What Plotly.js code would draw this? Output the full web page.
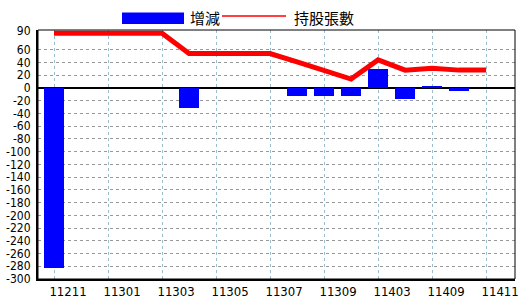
<!DOCTYPE html>
<html><head><meta charset="utf-8">
<script src="https://cdn.plot.ly/plotly-3.0.1.min.js"></script>
<style>html,body{margin:0;padding:0;background:#fff;}#chart{width:520px;height:300px;}</style>
</head><body><div id="chart"></div>
<script>
// data
const xIdx = [0,1,2,3,4,5,6,7,8,9,10,11,12,13,14,15,16];
const changes = [-283,null,null,null,null,-31,null,null,null,-13,-13,-12,30,-17,3,-4,null];
const holdings = [86,86,86,86,86,54,54,54,54,41,27,14,44,28,31,28,28];
const tickPos = [0,2,4,6,8,10,12,14,16];
const tickLabels = ['11211','11301','11303','11305','11307','11309','11403','11409','11411'];
const yTicks = [90,60,40,20,0,-20,-40,-60,-80,-100,-120,-140,-160,-180,-200,-220,-240,-260,-280,-300];
const seriesNames = ['增減','持股張數'];

const tickFont = {family:'"Liberation Sans Narrow","DejaVu Sans Condensed",Arial,sans-serif', size:12, color:'#000'};
const xTickFont = {family:'"Liberation Sans Narrow","DejaVu Sans Condensed",Arial,sans-serif', size:13, color:'#000'};
const cjkFont = {family:'"Noto Sans CJK TC","Noto Sans CJK SC",sans-serif', size:15, color:'#000'};

const traces = [
  {type:'bar', x:xIdx, y:changes, name:seriesNames[0], marker:{color:'#0000ff', line:{width:0}}, width:0.74, showlegend:false, hoverinfo:'skip'},
  {type:'scatter', mode:'lines', x:xIdx, y:holdings, name:seriesNames[1], line:{color:'#ff0000', width:5}, showlegend:false, hoverinfo:'skip'}
];

const L = 38, R = 515, T = 30, B = 279.5;
const px = v => (v - L) / (R - L);
const py = v => (B - v) / (B - T);

const layout = {
  width:520, height:300,
  margin:{l:38, r:5, t:30, b:20.5, pad:0},
  paper_bgcolor:'#fff', plot_bgcolor:'#fff',
  showlegend:false,
  xaxis:{
    range:[-0.593, 17.07], tickmode:'array', tickvals:tickPos, ticktext:tickLabels,
    showgrid:true, gridcolor:'#9dbccc', griddash:'dot', gridwidth:1,
    zeroline:false, showline:true, linecolor:'#000', linewidth:2,
    ticks:'', tickfont:xTickFont, ticklabelshift:14, ticklabelstandoff:-1, fixedrange:true
  },
  yaxis:{
    range:[-300, 91], tickmode:'array', tickvals:yTicks, ticktext:yTicks.map(String),
    showgrid:true, gridcolor:'#999', griddash:'dot', gridwidth:1,
    zeroline:true, zerolinecolor:'#000', zerolinewidth:2,
    showline:true, linecolor:'#000', linewidth:2,
    ticks:'', tickfont:tickFont, ticklabelstandoff:3, fixedrange:true
  },
  bargap:0,
  shapes:[
    {type:'rect', xref:'paper', yref:'paper', x0:0, x1:1, y0:0, y1:1, line:{color:'#000', width:1}, fillcolor:'rgba(0,0,0,0)'},
    {type:'rect', xref:'paper', yref:'paper', x0:px(122), x1:px(184), y0:py(24), y1:py(12.5), line:{width:0}, fillcolor:'#0000ff'},
    {type:'line', xref:'paper', yref:'paper', x0:px(222), x1:px(286), y0:py(16), y1:py(16), line:{color:'#ff0000', width:1.5}}
  ],
  annotations:[
    {xref:'paper', yref:'paper', x:px(188), y:py(17), xanchor:'left', yanchor:'middle', text:seriesNames[0], showarrow:false, font:cjkFont},
    {xref:'paper', yref:'paper', x:px(292), y:py(17), xanchor:'left', yanchor:'middle', text:seriesNames[1], showarrow:false, font:cjkFont}
  ]
};

Plotly.newPlot('chart', traces, layout, {displayModeBar:false, staticPlot:true});
</script></body></html>
